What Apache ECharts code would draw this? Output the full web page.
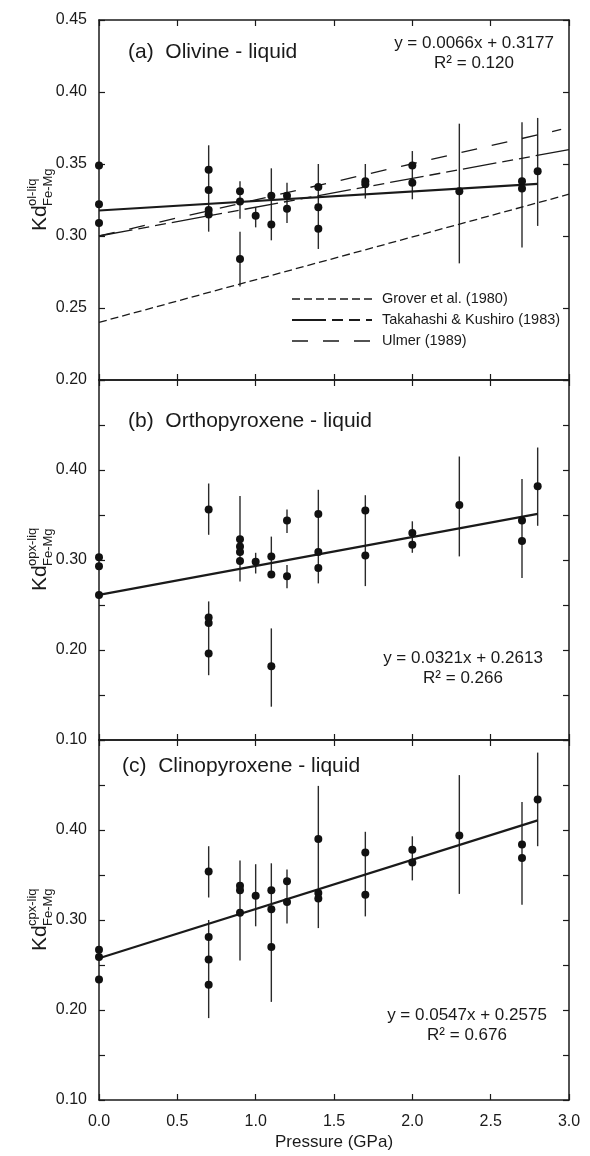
<!DOCTYPE html>
<html>
<head>
<meta charset="utf-8">
<script src="https://cdn.jsdelivr.net/npm/echarts@6/dist/echarts.min.js"></script>
<style>
  html, body { margin: 0; padding: 0; background: #fff; }
  #chart { width: 590px; height: 1156px; }
</style>
</head>
<body>
<div id="chart"></div>
<script>
// Fe-Mg exchange coefficients vs pressure for three mineral-liquid pairs

// (a) olivine - liquid
const pressureA = [0, 0, 0, 0.7, 0.7, 0.7, 0.7, 0.9, 0.9, 0.9, 1.0, 1.1, 1.1, 1.2, 1.2, 1.4, 1.4, 1.4, 1.7, 1.7, 2.0, 2.0, 2.3, 2.7, 2.7, 2.8];
const kdA = [0.349, 0.322, 0.309, 0.346, 0.332, 0.318, 0.315, 0.331, 0.324, 0.284, 0.314, 0.328, 0.308, 0.328, 0.319, 0.334, 0.320, 0.305, 0.338, 0.336, 0.349, 0.337, 0.331, 0.338, 0.333, 0.345];
const errPressureA = [0.7, 0.9, 0.9, 1.0, 1.1, 1.2, 1.4, 1.7, 2.0, 2.3, 2.7, 2.8];
const errLowA = [0.303, 0.312, 0.265, 0.306, 0.297, 0.309, 0.291, 0.326, 0.3255, 0.281, 0.292, 0.307];
const errHighA = [0.363, 0.338, 0.303, 0.320, 0.347, 0.337, 0.350, 0.350, 0.359, 0.378, 0.379, 0.382];

// (b) orthopyroxene - liquid
const pressureB = [0, 0, 0, 0.7, 0.7, 0.7, 0.7, 0.9, 0.9, 0.9, 0.9, 1.0, 1.1, 1.1, 1.1, 1.2, 1.2, 1.4, 1.4, 1.4, 1.7, 1.7, 2.0, 2.0, 2.3, 2.7, 2.7, 2.8];
const kdB = [0.303, 0.293, 0.261, 0.356, 0.236, 0.230, 0.196, 0.323, 0.315, 0.309, 0.299, 0.298, 0.304, 0.284, 0.182, 0.344, 0.282, 0.351, 0.309, 0.291, 0.355, 0.305, 0.330, 0.317, 0.361, 0.344, 0.321, 0.382];
const errPressureB = [0.7, 0.7, 0.9, 1.0, 1.1, 1.1, 1.2, 1.2, 1.4, 1.7, 2.0, 2.3, 2.7, 2.8];
const errLowB = [0.328, 0.172, 0.276, 0.285, 0.280, 0.137, 0.330, 0.2685, 0.274, 0.271, 0.308, 0.304, 0.280, 0.338];
const errHighB = [0.385, 0.254, 0.371, 0.308, 0.326, 0.224, 0.356, 0.2945, 0.378, 0.372, 0.343, 0.415, 0.390, 0.425];

// (c) clinopyroxene - liquid
const pressureC = [0, 0, 0, 0.7, 0.7, 0.7, 0.7, 0.9, 0.9, 0.9, 1.0, 1.1, 1.1, 1.1, 1.2, 1.2, 1.4, 1.4, 1.4, 1.7, 1.7, 2.0, 2.0, 2.3, 2.7, 2.7, 2.8];
const kdC = [0.267, 0.259, 0.234, 0.354, 0.281, 0.256, 0.228, 0.338, 0.333, 0.308, 0.327, 0.333, 0.312, 0.270, 0.343, 0.320, 0.390, 0.330, 0.324, 0.375, 0.328, 0.378, 0.364, 0.394, 0.384, 0.369, 0.434];
const errPressureC = [0.7, 0.7, 0.9, 1.0, 1.1, 1.2, 1.4, 1.7, 2.0, 2.3, 2.7, 2.8];
const errLowC = [0.325, 0.191, 0.255, 0.293, 0.209, 0.296, 0.291, 0.304, 0.344, 0.329, 0.317, 0.382];
const errHighC = [0.382, 0.300, 0.366, 0.362, 0.363, 0.356, 0.449, 0.398, 0.393, 0.461, 0.431, 0.486];

// linear fits (y = slope * P + intercept) for panels a, b, c
const fitSlopes = [0.0066, 0.0321, 0.0547];
const fitIntercepts = [0.3177, 0.2613, 0.2575];
const fitR2 = ['0.120', '0.266', '0.676'];
const fitRange = [0, 2.8];

// published olivine-liquid trends (panel a)
const refNames = ['Grover et al. (1980)', 'Takahashi & Kushiro (1983)', 'Ulmer (1989)'];
const refP0 = [0, 0, 0];
const refKd0 = [0.24, 0.30, 0.30];
const refP1 = [3.0, 3.0, 2.95];
const refKd1 = [0.329, 0.360, 0.374];

// axis tick labels
const pressureTicks = [0, 0.5, 1.0, 1.5, 2.0, 2.5, 3.0];
const panelTitles = ['(a)  Olivine - liquid', '(b)  Orthopyroxene - liquid', '(c)  Clinopyroxene - liquid'];
const kdSuperscripts = ['ol-liq', 'opx-liq', 'cpx-liq'];

const FONT = "'Liberation Sans', Arial, Helvetica, sans-serif";
const INK = '#1a1a1a';
const refDashes = [[8, 4], [34, 6, 11, 6, 11, 6], [16, 15]];

const GRID_LEFT = 99, GRID_W = 470, GRID_H = 360;
const gridTops = [20, 380, 740];
const yRanges = [[0.20, 0.45, 0.05], [0.10, 0.50, 0.10], [0.10, 0.50, 0.10]];

const chart = echarts.init(document.getElementById('chart'), null, { renderer: 'canvas' });

const grids = gridTops.map(t => ({ left: GRID_LEFT, top: t, width: GRID_W, height: GRID_H }));

const axisLine = { show: true, onZero: false, lineStyle: { color: INK, width: 1.5 } };
const axisTick = { show: true, inside: true, length: 6, lineStyle: { color: INK, width: 1.2 } };
const labelStyle = { color: INK, fontFamily: FONT, fontSize: 16 };

const xAxes = [];
const yAxes = [];
for (let i = 0; i < 3; i++) {
  ['bottom', 'top'].forEach(pos => {
    const showLabel = (i === 2 && pos === 'bottom');
    xAxes.push({
      type: 'value', gridIndex: i, position: pos,
      min: pressureTicks[0], max: pressureTicks[pressureTicks.length - 1], interval: 0.5,
      axisLine, axisTick, splitLine: { show: false },
      axisLabel: Object.assign({ show: showLabel, margin: 14, formatter: v => v.toFixed(1) }, labelStyle),
      name: showLabel ? 'Pressure (GPa)' : '',
      nameLocation: 'middle', nameGap: 34,
      nameTextStyle: { color: INK, fontFamily: FONT, fontSize: 17 }
    });
  });
  const [ymin, ymax, step] = yRanges[i];
  ['left', 'right'].forEach(pos => {
    yAxes.push({
      type: 'value', gridIndex: i, position: pos,
      min: ymin, max: ymax, interval: step,
      axisLine, axisTick, splitLine: { show: false },
      minorTick: i === 0 ? { show: false } : { show: true, splitNumber: 2, length: 6, lineStyle: { color: INK, width: 1.2 } },
      minorSplitLine: { show: false },
      axisLabel: Object.assign({
        show: pos === 'left', margin: 12,
        formatter: v => (i > 0 && Math.abs(v - ymax) < 1e-9) ? '' : v.toFixed(2)
      }, labelStyle)
    });
  });
}

const panels = [
  { p: pressureA, kd: kdA, ep: errPressureA, lo: errLowA, hi: errHighA },
  { p: pressureB, kd: kdB, ep: errPressureB, lo: errLowB, hi: errHighB },
  { p: pressureC, kd: kdC, ep: errPressureC, lo: errLowC, hi: errHighC }
];

const series = [];
panels.forEach((pn, i) => {
  const xi = i * 2, yi = i * 2;
  // error bars
  series.push({
    type: 'custom', xAxisIndex: xi, yAxisIndex: yi, silent: true, z: 2,
    data: pn.ep.map((p, k) => [p, pn.lo[k], pn.hi[k]]),
    encode: { x: 0, y: [1, 2] },
    renderItem: (params, api) => {
      const a = api.coord([api.value(0), api.value(1)]);
      const b = api.coord([api.value(0), api.value(2)]);
      return { type: 'line', shape: { x1: a[0], y1: a[1], x2: b[0], y2: b[1] },
               style: { stroke: '#2a2a2a', lineWidth: 1.4 } };
    }
  });
  // fit line
  const m = fitSlopes[i], c = fitIntercepts[i];
  series.push({
    type: 'line', xAxisIndex: xi, yAxisIndex: yi, silent: true, z: 3,
    showSymbol: false, symbol: 'none',
    lineStyle: { color: INK, width: 2.2 },
    data: fitRange.map(p => [p, m * p + c])
  });
  // data points
  series.push({
    type: 'scatter', xAxisIndex: xi, yAxisIndex: yi, silent: true, z: 4,
    symbol: 'circle', symbolSize: 8,
    itemStyle: { color: '#111', opacity: 1 },
    data: pn.p.map((p, k) => [p, pn.kd[k]])
  });
});

// published trends in panel a
refNames.forEach((name, k) => {
  series.push({
    type: 'line', name, xAxisIndex: 0, yAxisIndex: 0, silent: true, z: 2,
    showSymbol: false, symbol: 'none',
    lineStyle: { color: INK, width: 1.3, type: refDashes[k] },
    data: [[refP0[k], refKd0[k]], [refP1[k], refKd1[k]]]
  });
});

// ---- annotations ----
const graphic = [];
const titlePos = [[128, 54], [128, 423], [122, 768]];
panelTitles.forEach((t, i) => {
  graphic.push({ type: 'text', left: titlePos[i][0], top: titlePos[i][1] - 12,
    style: { text: t, font: `21px ${FONT}`, fill: INK } });
});

const eqPos = [[474, 43], [463, 658], [467, 1015]];
fitSlopes.forEach((m, i) => {
  const [cx, cy] = eqPos[i];
  graphic.push({ type: 'text', x: cx, y: cy,
    style: { text: `y = ${m.toFixed(4)}x + ${fitIntercepts[i].toFixed(4)}`, font: `17px ${FONT}`, fill: INK,
             textAlign: 'center', textVerticalAlign: 'middle' } });
  graphic.push({ type: 'text', x: cx, y: cy + 20,
    style: { text: `R\u00b2 = ${fitR2[i]}`, font: `17px ${FONT}`, fill: INK,
             textAlign: 'center', textVerticalAlign: 'middle' } });
});

// y-axis titles: Kd with stacked super/subscripts, rotated
gridTops.forEach((t, i) => {
  graphic.push({
    type: 'group', x: 40, y: t + GRID_H / 2, rotation: Math.PI / 2,
    children: [
      { type: 'text', x: -31, y: 0, style: { text: 'Kd', font: `21px ${FONT}`, fill: INK, textVerticalAlign: 'middle' } },
      { type: 'text', x: -6, y: -8, style: { text: kdSuperscripts[i], font: `13px ${FONT}`, fill: INK, textVerticalAlign: 'middle' } },
      { type: 'text', x: -6, y: 8, style: { text: 'Fe-Mg', font: `13px ${FONT}`, fill: INK, textVerticalAlign: 'middle' } }
    ]
  });
});

// legend for the published trends
const legendRows = [299, 320, 341];
refNames.forEach((name, k) => {
  graphic.push({ type: 'line', shape: { x1: 292, y1: legendRows[k], x2: 372, y2: legendRows[k] },
    style: { stroke: INK, lineWidth: k === 1 ? 2 : 1.3, lineDash: refDashes[k] } });
  graphic.push({ type: 'text', x: 382, y: legendRows[k],
    style: { text: name, font: `14.5px ${FONT}`, fill: INK, textVerticalAlign: 'middle' } });
});

chart.setOption({
  animation: false,
  backgroundColor: '#fff',
  grid: grids,
  xAxis: xAxes,
  yAxis: yAxes,
  series,
  graphic
});
</script>
</body>
</html>
